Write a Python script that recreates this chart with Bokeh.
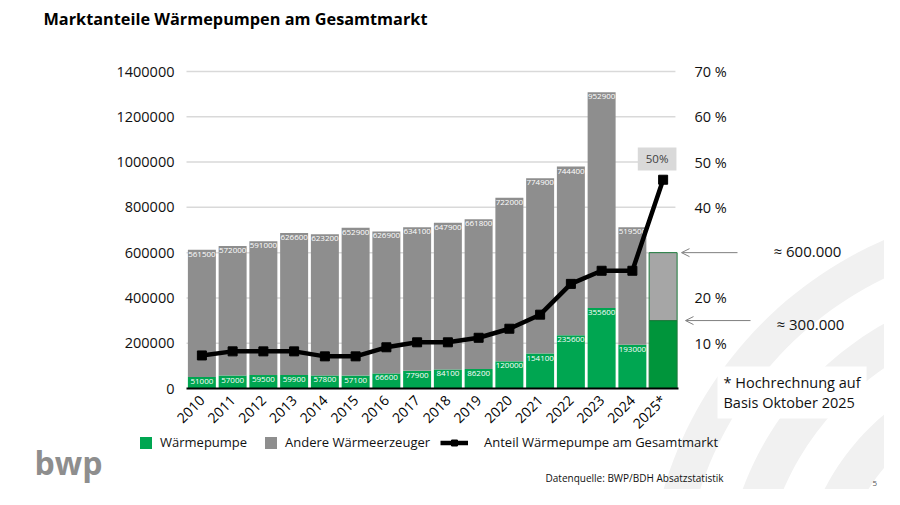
import numpy as np
from bokeh.plotting import figure
from bokeh.models import (ColumnDataSource, Range1d, LinearAxis, FixedTicker, Label,
                          Legend, LegendItem, Arrow, OpenHead, PolyAnnotation)
from bokeh.core.properties import value
from bokeh.embed import file_html
from bokeh.resources import INLINE

# ---------------- data ----------------
years = ["2010", "2011", "2012", "2013", "2014", "2015", "2016", "2017", "2018",
         "2019", "2020", "2021", "2022", "2023", "2024", "2025*"]
waermepumpe = [51000, 57000, 59500, 59900, 57800, 57100, 66600, 77900, 84100,
               86200, 120000, 154100, 235600, 355600, 193000, 300000]
andere = [561500, 572000, 591000, 626600, 623200, 652900, 626900, 634100, 647900,
          661800, 722000, 774900, 744400, 952900, 519500, 300000]
anteil = [7.3, 8.2, 8.2, 8.2, 7.1, 7.1, 9.1, 10.2, 10.2, 11.2, 13.2, 16.3, 23.1,
          26.0, 26.0, 46.1]
y_ticks = [0, 200000, 400000, 600000, 800000, 1000000, 1200000, 1400000]
y_tick_labels = ["0", "200000", "400000", "600000", "800000", "1000000", "1200000", "1400000"]
pct_ticks = [10, 20, 40, 50, 60, 70]
pct_tick_labels = ["10 %", "20 %", "40 %", "50 %", "60 %", "70 %"]
estimate_total = 600000
estimate_wp = 300000

# ---------------- layout ----------------
W, H = 884, 489
FONT = "Open Sans"
n = len(years)
X0_PX, STEP = 186.0, 30.75          # left edge of the first category, category width (px)
Y0_PX, Y_PX_PER = 388.0, 317.0 / 1400000   # pixel of value 0, pixels per unit

x_lo = -0.5 - X0_PX / STEP
x_hi = x_lo + W / STEP
y_lo = -(H - Y0_PX) / Y_PX_PER
y_hi = Y0_PX / Y_PX_PER

def sx(px):
    return px

def sy(py):
    return H - py

xs = list(range(n))
totals = [a + b for a, b in zip(waermepumpe, andere)]
c_green = ["#00a651"] * (n - 1) + ["#00953b"]
c_gray = ["#8e8e8e"] * (n - 1) + ["#a6a6a6"]
outline_alpha = [0.0] * (n - 1) + [1.0]
wp_lbl = [str(v) for v in waermepumpe[:-1]] + [""]
an_lbl = [str(v) for v in andere[:-1]] + [""]

src = ColumnDataSource(dict(x=xs, wp=waermepumpe, total=totals, pct=anteil,
                            c_green=c_green, c_gray=c_gray, oa=outline_alpha,
                            wp_lbl=wp_lbl, an_lbl=an_lbl))

p = figure(width=W, height=H, x_range=Range1d(x_lo, x_hi), y_range=Range1d(y_lo, y_hi),
           output_backend="svg", toolbar_location=None,
           min_border_left=0, min_border_right=0, min_border_top=0, min_border_bottom=0,
           outline_line_color=None, background_fill_color="white", border_fill_color="white")
p.extra_y_ranges = {"pct": Range1d(y_lo / 20000, y_hi / 20000)}
p.xgrid.visible = False
p.ygrid.visible = False

# background watermark arcs (decoration)
cxs, cys = sx(1040), sy(600)
for r_out, r_in in [(393, 358), (318, 280), (243, 205), (168, 130)]:
    th = np.linspace(np.radians(25), np.radians(215), 120)
    pxs = list(cxs + r_out * np.cos(th)) + list(cxs + r_in * np.cos(th[::-1]))
    pys = list(cys + r_out * np.sin(th)) + list(cys + r_in * np.sin(th[::-1]))
    p.add_layout(PolyAnnotation(xs=pxs, ys=pys, xs_units="screen", ys_units="screen",
                                fill_color="#f1f1f1", fill_alpha=1, line_color=None,
                                level="image"))

# horizontal grid lines at the tick values, spanning the category area
grid_y = y_ticks[1:]
p.segment(x0=[-0.5] * len(grid_y), x1=[n - 0.6] * len(grid_y), y0=grid_y, y1=grid_y,
          line_color="#d9d9d9", line_width=1.5, level="underlay")

# bars
r_wp = p.vbar(x="x", bottom=0, top="wp", width=0.91, source=src, fill_color="c_green",
              line_color="#1d7a3c", line_alpha="oa", line_width=1)
r_an = p.vbar(x="x", bottom="wp", top="total", width=0.91, source=src, fill_color="c_gray",
              line_color="#1d7a3c", line_alpha="oa", line_width=1)

p.text(x="x", y="total", text="an_lbl", source=src, text_align="center", text_baseline="top",
       y_offset=2, text_color="white", text_font_size="8px", text_font=value(FONT))
p.text(x="x", y="wp", text="wp_lbl", source=src, text_align="center", text_baseline="top",
       y_offset=2, text_color="white", text_font_size="8px", text_font=value(FONT))

# share line
r_line = p.line(x="x", y="pct", source=src, y_range_name="pct", line_color="black", line_width=4.5)
r_pts = p.scatter(x="x", y="pct", source=src, y_range_name="pct", marker="square", size=9,
                  fill_color="black", line_color="black")

# axes (placed inside the frame at fixed data locations)
ax_l = p.yaxis[0]
ax_l.fixed_location = -0.5
ax_l.bounds = (0, 1400000)
ax_l.ticker = FixedTicker(ticks=y_ticks)
ax_l.major_label_overrides = dict(zip(y_ticks, y_tick_labels))
ax_l.axis_line_color = None
ax_l.major_tick_line_color = None
ax_l.minor_tick_line_color = None
ax_l.major_label_standoff = 6
ax_l.major_label_text_font = FONT
ax_l.major_label_text_font_size = "14.5px"
ax_l.major_label_text_color = "#111111"

ax_b = p.xaxis[0]
ax_b.fixed_location = 0
ax_b.bounds = (-0.5, n - 0.5)
ax_b.ticker = FixedTicker(ticks=xs)
ax_b.major_label_overrides = dict(zip(xs, years))
ax_b.major_label_orientation = np.pi / 4
ax_b.axis_line_color = "black"
ax_b.axis_line_width = 2
ax_b.major_tick_line_color = None
ax_b.minor_tick_line_color = None
ax_b.major_label_standoff = 3
ax_b.major_label_text_font = FONT
ax_b.major_label_text_font_size = "14px"
ax_b.major_label_text_color = "#000000"

ax_r = LinearAxis(y_range_name="pct", ticker=FixedTicker(ticks=pct_ticks),
                  major_label_overrides=dict(zip(pct_ticks, pct_tick_labels)),
                  fixed_location=n - 0.5, bounds=(0, 70))
ax_r.axis_line_color = None
ax_r.major_tick_line_color = None
ax_r.minor_tick_line_color = None
ax_r.major_label_standoff = 10
ax_r.major_label_text_font = FONT
ax_r.major_label_text_font_size = "14.5px"
ax_r.major_label_text_color = "#111111"
p.add_layout(ax_r, "right")

# legends
leg1 = Legend(items=[LegendItem(label="Wärmepumpe", renderers=[r_wp]),
                     LegendItem(label="Andere Wärmeerzeuger", renderers=[r_an])],
              orientation="horizontal", location=(sx(138), sy(451)),
              glyph_width=15, glyph_height=15, label_height=15, label_standoff=7, spacing=16,
              padding=0, margin=0, border_line_color=None, background_fill_alpha=0,
              label_text_font=FONT, label_text_font_size="13px", label_text_color="#111111")
p.add_layout(leg1, "center")
leg2 = Legend(items=[LegendItem(label="Anteil Wärmepumpe am Gesamtmarkt", renderers=[r_line, r_pts])],
              orientation="horizontal", location=(sx(440), sy(451)),
              glyph_width=28, glyph_height=15, label_height=15, label_standoff=16,
              padding=0, margin=0, border_line_color=None, background_fill_alpha=0,
              label_text_font=FONT, label_text_font_size="13px", label_text_color="#111111")
p.add_layout(leg2, "center")

# arrows pointing at the 2025 estimate
def dx(px):
    return (px - X0_PX) / STEP - 0.5

for y_val, x0, x1 in [(estimate_total, 737, 681), (estimate_wp, 750, 685)]:
    p.add_layout(Arrow(end=OpenHead(size=8, line_color="#7f7f7f", line_width=1),
                       x_start=dx(x0), y_start=y_val, x_end=dx(x1), y_end=y_val,
                       line_color="#7f7f7f", line_width=1))

# text annotations
def lab(text, px, py, size, align="left", baseline="middle", bold=False, color="#111111", **kw):
    p.add_layout(Label(x=sx(px), y=sy(py), x_units="screen", y_units="screen", text=text,
                       text_align=align, text_baseline=baseline, text_font=FONT,
                       text_font_size=size, text_color=color,
                       text_font_style="bold" if bold else "normal", **kw))

lab("Marktanteile Wärmepumpen am Gesamtmarkt", 43, 18, "16.3px", bold=True, color="#000000")
lab("≈ 600.000", 773, 250, "15px")
lab("≈ 300.000", 776, 323, "15px")
lab("* Hochrechnung auf\nBasis Oktober 2025", 717, 366, "14.5px", baseline="top",
    background_fill_color="white", padding=6, text_line_height=1.1)
lab("Datenquelle: BWP/BDH Absatzstatistik", 545, 477, "10px")
lab("5", 872, 483, "8px", color="#555555")
lab("bwp", 34, 462, "32px", baseline="middle", bold=True, color="#8e8e8e")

p.add_layout(Label(x=n - 1, y=50.7, y_range_name="pct", text="50%", x_offset=-6,
                   text_align="center", text_baseline="middle", text_font=FONT,
                   text_font_size="11.5px", text_color="#404040",
                   background_fill_color="#d9d9d9", padding=(8, 4)))

open("out.html", "w").write(file_html(p, INLINE))
